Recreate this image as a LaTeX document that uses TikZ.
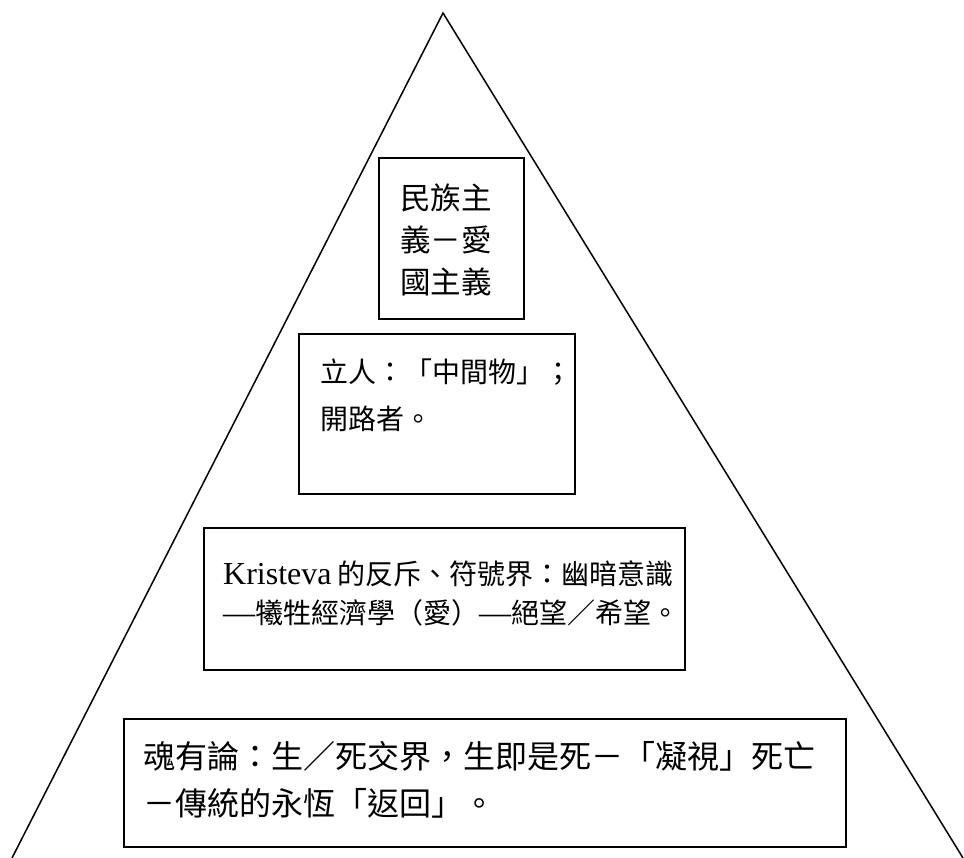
\documentclass[tikz,border=0pt]{standalone}
\usepackage{fontspec}
\setmainfont{Liberation Serif}
\newfontfamily\cjk{Noto Sans CJK TC}
\newcommand\mysize[1]{\fontsize{#1}{#1}\selectfont}
\begin{document}
\begin{tikzpicture}[x=1pt,y=-1pt,
  tri/.style={draw=black,line width=1.5pt,line join=miter},
  box/.style={draw=black,fill=white,line width=1.8pt,rectangle,inner sep=0pt,anchor=north west},
  txt/.style={anchor=base west,inner sep=0pt}]
\useasboundingbox (0,0) rectangle (964,858);
\coordinate (apex) at (443,13);
\coordinate (bl) at (12,858);
\coordinate (br) at (963,858);
\draw[tri] (bl) -- (apex) -- (br);

\node[box,minimum width=145pt,minimum height=161pt] (b1) at (378,157) {};
\node[box,minimum width=276pt,minimum height=160pt] (b2) at (298,333) {};
\node[box,minimum width=481pt,minimum height=142pt] (b3) at (203,527) {};
\node[box,minimum width=722pt,minimum height=128pt] (b4) at (123,718) {};

\node[txt,font=\mysize{30.5}] (t1a) at (400,210) {\cjk 民族主};
\node[txt,font=\mysize{30.5}] (t1b) at (400,252) {\cjk 義－愛};
\node[txt,font=\mysize{30.5}] (t1c) at (400,294) {\cjk 國主義};

\node[txt,font=\mysize{28}] (t2a) at (320,383) {\cjk 立人：「中間物」；};
\node[txt,font=\mysize{28}] (t2b) at (320,429) {\cjk 開路者。};

\node[txt,font=\mysize{32}] (t3a) at (223,584) {Kristeva\hspace{6pt}{\cjk\mysize{28}的反斥、符號界：幽暗意識}};
\node[txt,font=\mysize{32}] (t3b) at (223,623) {—{\cjk\mysize{28}犧牲經濟學（愛）}—{\cjk\mysize{28}絕望／希望。}};

\node[txt,font=\mysize{32}] (t4a) at (143,768) {\cjk 魂有論：生／死交界，生即是死－「凝視」死亡};
\node[txt,font=\mysize{32}] (t4b) at (143,815) {\cjk －傳統的永恆「返回」。};
\end{tikzpicture}
\end{document}
